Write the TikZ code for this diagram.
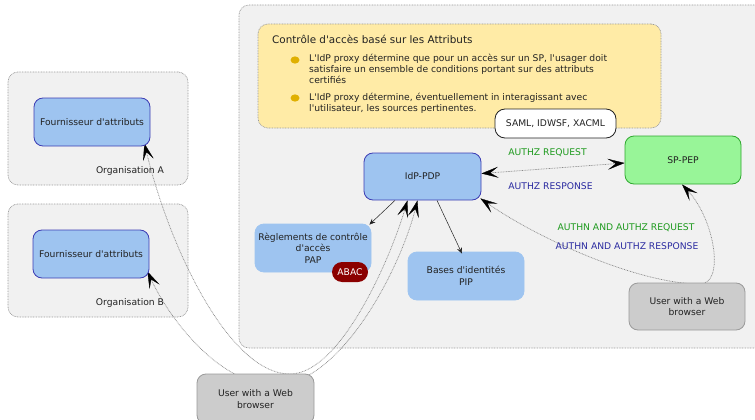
\documentclass[tikz,border=0pt]{standalone}
\usepackage{fontspec}
\setmainfont{DejaVu Sans}[Ligatures=TeXOff]
\usetikzlibrary{arrows.meta}

\definecolor{panelfill}{HTML}{F1F1F1}
\definecolor{panelline}{HTML}{9A9A9A}
\definecolor{notefill}{HTML}{FFEBA6}
\definecolor{bulletc}{HTML}{E0B000}
\definecolor{bluefill}{HTML}{9EC4F0}
\definecolor{blueline}{HTML}{3C3CB4}
\definecolor{greenfill}{HTML}{98F598}
\definecolor{greenline}{HTML}{2EA82E}
\definecolor{userfill}{HTML}{CCCCCC}
\definecolor{userline}{HTML}{9A9A9A}
\definecolor{abacred}{HTML}{8B0000}
\definecolor{reqgreen}{HTML}{1E9A1E}
\definecolor{respblue}{HTML}{2A2AA0}
\definecolor{ink}{HTML}{222222}
\definecolor{linkgray}{HTML}{8A8A8A}

\pgfdeclarelayer{back}
\pgfdeclarelayer{links}
\pgfsetlayers{back,links,main}

\tikzset{
  panel/.style={rectangle, draw=panelline, fill=panelfill, line width=0.7pt,
    dash pattern=on 0.8pt off 0.8pt, rounded corners=10pt},
  box/.style={rectangle, rounded corners=9pt, minimum width=116pt,
    minimum height=48pt, align=center, text=ink, line width=0.8pt, inner sep=2pt},
  entity/.style={box, fill=bluefill, draw=blueline},
  store/.style={box, fill=bluefill, draw=bluefill},
  peer/.style={box, fill=greenfill, draw=greenline},
  user/.style={box, fill=userfill, draw=userline},
  tag/.style={rectangle, rounded corners=10pt, fill=abacred, text=white,
    minimum width=36pt, minimum height=20pt, inner sep=1pt},
  proto/.style={rectangle, rounded corners=10pt, fill=white, draw=ink,
    line width=0.8pt, minimum width=121pt, minimum height=29pt, text=ink},
  plain/.style={text=ink, inner sep=0pt},
  req/.style={text=reqgreen, inner sep=0pt},
  resp/.style={text=respblue, inner sep=0pt},
  bigtip/.tip={Stealth[length=17pt, width=11pt, inset=8pt, black, line width=0.3pt]},
  link/.style={draw=linkgray, line width=0.7pt, dash pattern=on 0.8pt off 0.8pt,
    {bigtip}-{bigtip}},
  flow/.style={draw=ink, line width=0.5pt, -{Stealth[length=6pt, width=5pt, inset=2pt]}},
}

\begin{document}
\begin{tikzpicture}[x=1pt, y=-1pt, font=\fontsize{9.2}{11.5}\selectfont]
\clip (0,0) rectangle (755,420);
\useasboundingbox (0,0) rectangle (755,420);

% ---- enclosing areas ----
\begin{pgfonlayer}{back}
  \node[panel, minimum width=536pt, minimum height=343pt] (proxy) at (507,176.5) {};
  \node[panel, minimum width=180pt, minimum height=113pt] (orgA) at (98,128.5) {};
  \node[panel, minimum width=180pt, minimum height=113pt] (orgB) at (98,260.5) {};
  \node[panel, fill=notefill, minimum width=403pt, minimum height=104pt] (note) at (459.5,76) {};
\end{pgfonlayer}

% ---- note on attribute based access control ----
\node[plain, anchor=west, font=\fontsize{10.4}{12}\selectfont] (title) at (272,39.5)
  {Contrôle d'accès basé sur les Attributs};
\fill[bulletc] (295,60) ellipse (4.5pt and 3.6pt);
\fill[bulletc] (295,98) ellipse (4.5pt and 3.6pt);
\node[plain, anchor=north west, align=left, font=\fontsize{9.2}{11.3}\selectfont] (itemA) at (309,53.5)
  {L'IdP proxy détermine que pour un accès sur un SP, l'usager doit\\
   satisfaire un ensemble de conditions portant sur des attributs\\
   certifiés};
\node[plain, anchor=north west, align=left, font=\fontsize{9.2}{11.3}\selectfont] (itemB) at (309,92.5)
  {L'IdP proxy détermine, éventuellement in interagissant avec\\
   l'utilisateur, les sources pertinentes.};
\node[proto] (saml) at (555.5,123.5) {SAML, IDWSF, XACML};

% ---- organisations ----
\node[entity] (fa) at (92,122) {Fournisseur d'attributs};
\node[plain] (labA) at (130,171) {Organisation A};
\node[entity] (fb) at (91,254) {Fournisseur d'attributs};
\node[plain] (labB) at (130,303) {Organisation B};

% ---- proxy components ----
\node[entity, minimum width=117pt, minimum height=47pt] (idp) at (422.5,176.5) {IdP-PDP};
\node[peer] (sp) at (683,160) {SP-PEP};
\node[store] (pap) at (313,248) {Règlements de contrôle\\d'accès\\PAP};
\node[tag] (abac) at (350,272) {ABAC};
\node[store] (pip) at (466,276) {Bases d'identités\\PIP};

% ---- users ----
\node[user, minimum width=117pt, minimum height=50pt] (userL) at (255.5,399) {User with a Web\\browser};
\node[user, minimum height=47pt] (userR) at (687,306.5) {User with a Web\\browser};

% ---- message flows ----
\begin{pgfonlayer}{links}
  \draw[link] ([shift={(-6pt,3pt)}]fa.south east)
    .. controls (170,250) and (230,374) .. (290,374)
    .. controls (340,374) and (390,260) .. ([xshift=-15pt]idp.south);
  \draw[link] ([shift={(-2pt,7pt)}]fb.south east)
    .. controls (170,320) and (220,385) .. (275,385)
    .. controls (340,385) and (400,270) .. ([xshift=-5pt]idp.south);
  \draw[link] ([shift={(-1pt,2pt)}]idp.south east)
    .. controls (540,240) and (640,284) .. (700,284)
    .. controls (725,284) and (715,220) .. ([xshift=-1pt]sp.south);
  \draw[link] ([yshift=3pt]idp.east) -- ([yshift=-3pt]sp.west);
\end{pgfonlayer}
\draw[flow] ([xshift=-27.5pt]idp.south) -- ([shift={(-2pt,-1pt)}]pap.north east);
\draw[flow] ([xshift=14.5pt]idp.south) -- ([shift={(-4pt,-2pt)}]pip.north);

% ---- flow labels ----
\node[req] (zreq) at (547.5,153) {AUTHZ REQUEST};
\node[resp] (zresp) at (550.5,186) {AUTHZ RESPONSE};
\node[req] (nreq) at (626,228) {AUTHN AND AUTHZ REQUEST};
\node[resp] (nresp) at (627,246) {AUTHN AND AUTHZ RESPONSE};
\end{tikzpicture}
\end{document}
